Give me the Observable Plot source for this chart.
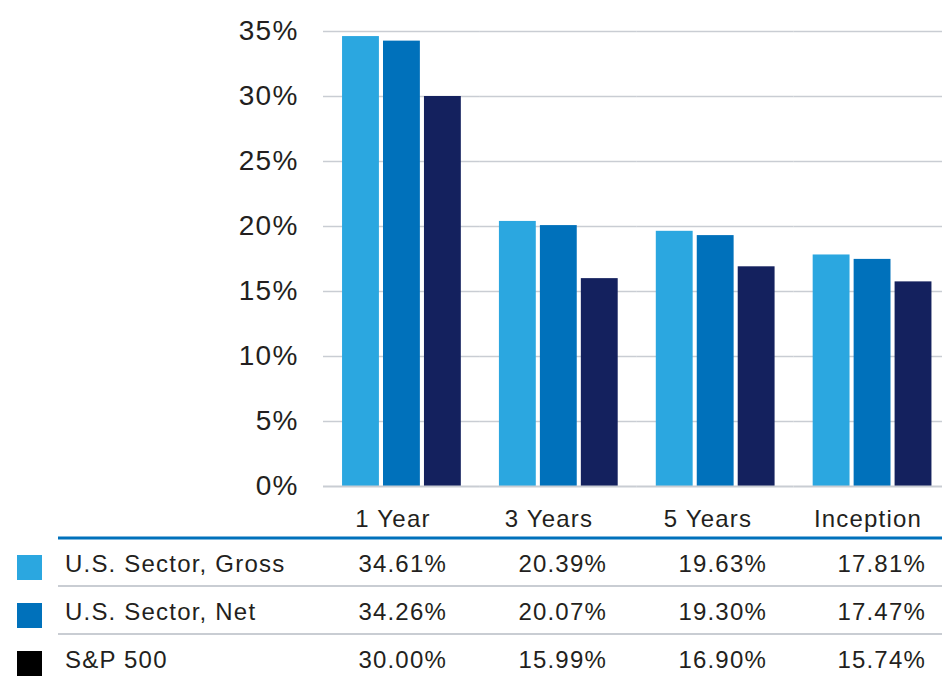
<!DOCTYPE html>
<html>
<head>
<meta charset="utf-8">
<script src="https://cdn.jsdelivr.net/npm/d3@7"></script>
<script src="https://cdn.jsdelivr.net/npm/@observablehq/plot@0.6"></script>
<style>
  html, body { margin: 0; padding: 0; background: #fff; overflow: hidden; }
  #wrap { position: relative; width: 942px; height: 677px; }
  #wrap > svg { position: absolute; left: 0; top: 0; }
</style>
</head>
<body>
<div id="wrap"></div>
<script>
const periods = ["1 Year", "3 Years", "5 Years", "Inception"];
const seriesNames = ["U.S. Sector, Gross", "U.S. Sector, Net", "S&P 500"];
const gross = [34.61, 20.39, 19.63, 17.81];
const net = [34.26, 20.07, 19.30, 17.47];
const sp500 = [30.00, 15.99, 16.90, 15.74];
const yTicks = [0, 5, 10, 15, 20, 25, 30, 35];
const barColors = ["#2ba7e0", "#0071bb", "#14215e"];
const swatchColors = ["#2ba7e0", "#0071bb", "#000000"];

const seriesValues = [gross, net, sp500];
const data = periods.flatMap((p, i) =>
  seriesNames.map((s, j) => ({period: p, series: s, value: seriesValues[j][i]}))
);

const FONT = "'Liberation Sans', Arial, Helvetica, sans-serif";

const chart = Plot.plot({
  width: 942,
  height: 500,
  marginTop: 31,
  marginBottom: 14,
  marginLeft: 323,
  marginRight: -8.5,
  style: {fontFamily: FONT, fontSize: "28px", color: "#231f20", background: "transparent", overflow: "hidden", letterSpacing: "1.2px"},
  fx: {domain: periods, padding: 0, round: false, axis: null, label: null},
  x: {domain: seriesNames, paddingInner: 0.1, paddingOuter: 0.465, round: false, axis: null, label: null},
  y: {domain: [0, 35], axis: null, label: null},
  color: {domain: seriesNames, range: barColors},
  marks: [
    Plot.ruleY(yTicks.filter(d => d > 0), {stroke: "#c9cdd3", strokeWidth: 1.5}),
    Plot.barY(data, {fx: "period", x: "series", y: "value", fill: "series"}),
    Plot.ruleY([0], {stroke: "#c9cdd3", strokeWidth: 2}),
    Plot.axisY(yTicks, {
      label: null,
      tickSize: 0,
      tickPadding: 25,
      tickFormat: d => d + "%",
      fontSize: 28,
      fill: "#231f20"
    })
  ]
});
document.getElementById("wrap").appendChild(chart);

// Table beneath the chart, built from the same arrays
const tbl = d3.select("#wrap").append("svg")
  .attr("width", 942).attr("height", 677)
  .style("pointer-events", "none")
  .style("font-family", FONT)
  .style("font-size", "24px")
  .style("letter-spacing", "1.2px")
  .attr("fill", "#231f20");

const headerCenters = [393, 549, 708, 868];
const valueRights = [447, 607, 767, 926];
const rowBaselines = [572, 620, 668];

tbl.selectAll("text.hdr").data(periods).join("text")
  .attr("class", "hdr")
  .attr("x", (d, i) => headerCenters[i])
  .attr("y", 527)
  .attr("text-anchor", "middle")
  .text(d => d);

tbl.append("line").attr("x1", 58).attr("x2", 942).attr("y1", 538).attr("y2", 538)
  .attr("stroke", "#0071bb").attr("stroke-width", 3);
[586, 634].forEach(y => {
  tbl.append("line").attr("x1", 58).attr("x2", 942).attr("y1", y).attr("y2", y)
    .attr("stroke", "#c9cdd3").attr("stroke-width", 2);
});

seriesNames.forEach((name, j) => {
  const yb = rowBaselines[j];
  tbl.append("rect").attr("x", 17).attr("y", yb - 17).attr("width", 25).attr("height", 25)
    .attr("fill", swatchColors[j]);
  tbl.append("text").attr("x", 65).attr("y", yb).text(name);
  seriesValues[j].forEach((v, i) => {
    tbl.append("text").attr("x", valueRights[i]).attr("y", yb)
      .attr("text-anchor", "end").text(v.toFixed(2) + "%");
  });
});
</script>
</body>
</html>
